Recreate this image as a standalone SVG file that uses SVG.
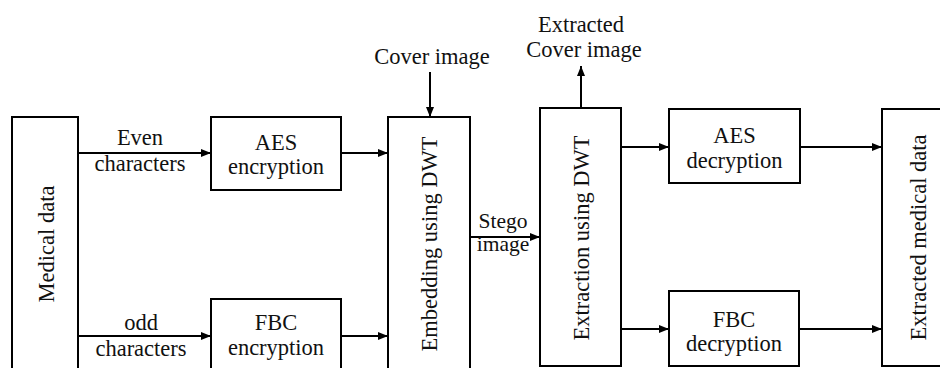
<svg xmlns="http://www.w3.org/2000/svg" width="940" height="368" viewBox="0 0 940 368">
<style>
.box{fill:#fff;stroke:#000;stroke-width:2}
.t{font-family:'Liberation Serif','Tinos','Times New Roman','DejaVu Serif',serif;font-size:22.5px;fill:#111;text-anchor:middle}
.s{font-size:21.5px}
.c{fill:none;stroke:#000;stroke-width:2}
</style>
<defs>
<marker id="ah" viewBox="0 0 10 8" refX="10" refY="4" markerWidth="10" markerHeight="8" markerUnits="userSpaceOnUse" orient="auto">
<path d="M0,0 L10,4 L0,8 z" fill="#000"/>
</marker>
</defs>
<rect width="940" height="368" fill="#fff"/>
<g id="connectors" font-family="Liberation Serif, serif">
<line class="c" x1="78" y1="153" x2="211" y2="153" marker-end="url(#ah)"/>
<line class="c" x1="78" y1="336" x2="211" y2="336" marker-end="url(#ah)"/>
<line class="c" x1="341" y1="153" x2="388" y2="153" marker-end="url(#ah)"/>
<line class="c" x1="341" y1="336" x2="388" y2="336" marker-end="url(#ah)"/>
<line class="c" x1="430" y1="72" x2="430" y2="117" marker-end="url(#ah)"/>
<line class="c" x1="470" y1="237" x2="540" y2="237" marker-end="url(#ah)"/>
<line class="c" x1="581" y1="108" x2="581" y2="66" marker-end="url(#ah)"/>
<line class="c" x1="621" y1="147" x2="669" y2="147" marker-end="url(#ah)"/>
<line class="c" x1="621" y1="329" x2="669" y2="329" marker-end="url(#ah)"/>
<line class="c" x1="800" y1="147" x2="882" y2="147" marker-end="url(#ah)"/>
<line class="c" x1="799" y1="329" x2="882" y2="329" marker-end="url(#ah)"/>
<text class="t" x="140" y="145">Even</text>
<text class="t" x="140" y="171">characters</text>
<text class="t" x="141" y="330">odd</text>
<text class="t" x="141" y="356">characters</text>
<text class="t" x="432" y="64">Cover image</text>
<text class="t s" x="503" y="228">Stego</text>
<text class="t s" x="503" y="251">image</text>
<text class="t" x="581" y="32">Extracted</text>
<text class="t" x="584" y="57">Cover image</text>
</g>
<g id="medical" font-family="Liberation Serif, serif">
<rect class="box" x="12" y="117" width="66" height="260"/>
<text class="t" transform="translate(53.5,244) rotate(-90)">Medical data</text>
</g>
<g id="aes-enc">
<rect class="box" x="211" y="117" width="130" height="73"/>
<text class="t" x="276" y="150">AES</text>
<text class="t" x="276" y="174">encryption</text>
</g>
<g id="fbc-enc">
<rect class="box" x="211" y="299" width="130" height="80"/>
<text class="t" x="276" y="330">FBC</text>
<text class="t" x="276" y="355">encryption</text>
</g>
<g id="embed">
<rect class="box" x="388" y="117" width="82" height="260"/>
<text class="t" transform="translate(437,244) rotate(-90)">Embedding using DWT</text>
</g>
<g id="extract">
<rect class="box" x="540" y="108" width="81" height="258"/>
<text class="t" transform="translate(588.5,238) rotate(-90)">Extraction using DWT</text>
</g>
<g id="aes-dec">
<rect class="box" x="669" y="109" width="131" height="74"/>
<text class="t" x="734.5" y="143">AES</text>
<text class="t" x="734.5" y="168">decryption</text>
</g>
<g id="fbc-dec">
<rect class="box" x="669" y="291" width="130" height="75"/>
<text class="t" x="734" y="327">FBC</text>
<text class="t" x="734" y="351">decryption</text>
</g>
<g id="extracted-data">
<rect class="box" x="882" y="109" width="70" height="257"/>
<text class="t" transform="translate(926,237.5) rotate(-90)">Extracted medical data</text>
</g>
</svg>
